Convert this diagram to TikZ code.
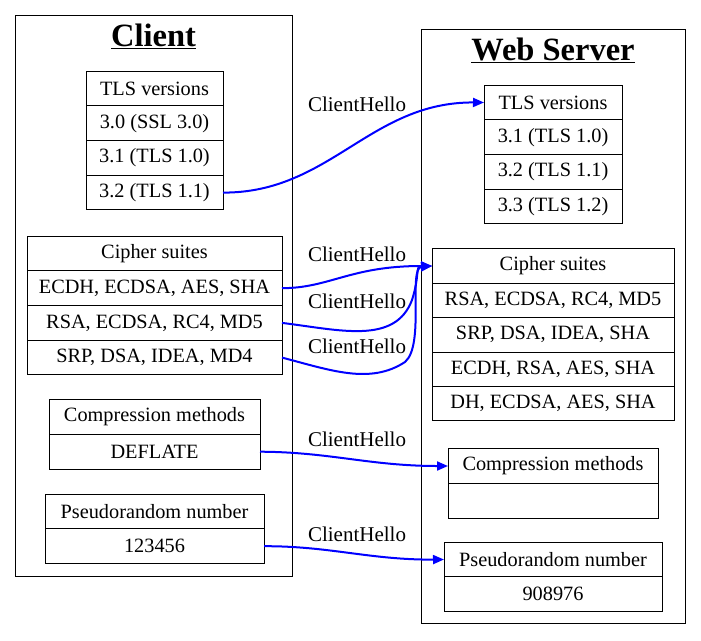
\documentclass[tikz,border=0pt]{standalone}
\usepackage{fontspec}
\setmainfont{Liberation Serif}
\usetikzlibrary{positioning,arrows.meta}

\begin{document}
\begin{tikzpicture}[x=1pt,y=-1pt,
        font=\fontsize{20.3}{24}\selectfont,
        cluster/.style={draw,line width=1pt},
        title/.style={font=\fontsize{32.5}{38}\selectfont\bfseries},
        cell/.style={draw,line width=1pt,outer sep=0pt,inner sep=0pt,minimum height=34.7pt},
        hello/.style={draw=blue,line width=2pt,-{Triangle[length=11pt,width=9pt]}}]

    \useasboundingbox (0,0) rectangle (701,640);

        % clusters
        \node[cluster,minimum width=277pt,minimum height=561pt] (client) at (153.5,295.5) {};
        \node[cluster,minimum width=264pt,minimum height=594pt] (server) at (553,326) {};
        \node[title] (clientTitle) at (153.5,36) {\underline{Client}};
        \node[title] (serverTitle) at (553,50) {\underline{Web Server}};

        % client side
        \begin{scope}[every node/.style={cell,minimum width=137pt}]
            \node (cTLS) at (154.5,88.5) {TLS versions};
            \node[below=0pt of cTLS] (cV30) {3.0 (SSL 3.0)};
            \node[below=0pt of cV30] (cV31) {3.1 (TLS 1.0)};
            \node[below=0pt of cV31] (cV32) {3.2 (TLS 1.1)};
        \end{scope}

        \begin{scope}[every node/.style={cell,minimum width=255pt}]
            \node (cCS) at (154.5,253.5) {Cipher suites};
            \node[below=0pt of cCS] (cEC) {ECDH, ECDSA, AES, SHA};
            \node[below=0pt of cEC] (cRSA) {RSA, ECDSA, RC4, MD5};
            \node[below=0pt of cRSA] (cSRP) {SRP, DSA, IDEA, MD4};
        \end{scope}

        \begin{scope}[every node/.style={cell,minimum width=211pt}]
            \node (cCM) at (154.5,417) {Compression methods};
            \node[below=0pt of cCM] (cDEF) {DEFLATE};
        \end{scope}

        \begin{scope}[every node/.style={cell,minimum width=219pt}]
            \node (cPR) at (154.5,511.5) {Pseudorandom number};
            \node[below=0pt of cPR] (cNum) {123456};
        \end{scope}

        % server side
        \begin{scope}[every node/.style={cell,minimum width=138pt}]
            \node (sTLS) at (553,102.5) {TLS versions};
            \node[below=0pt of sTLS] (sV31) {3.1 (TLS 1.0)};
            \node[below=0pt of sV31] (sV32) {3.2 (TLS 1.1)};
            \node[below=0pt of sV32] (sV33) {3.3 (TLS 1.2)};
        \end{scope}

        \begin{scope}[every node/.style={cell,minimum width=242pt,minimum height=34.4pt}]
            \node (sCS) at (553,266) {Cipher suites};
            \node[below=0pt of sCS] (sRSA) {RSA, ECDSA, RC4, MD5};
            \node[below=0pt of sRSA] (sSRP) {SRP, DSA, IDEA, SHA};
            \node[below=0pt of sSRP] (sEC) {ECDH, RSA, AES, SHA};
            \node[below=0pt of sEC] (sDH) {DH, ECDSA, AES, SHA};
        \end{scope}

        \begin{scope}[every node/.style={cell,minimum width=210pt}]
            \node (sCM) at (553,466) {Compression methods};
            \node[below=0pt of sCM] (sNone) {};
        \end{scope}

        \begin{scope}[every node/.style={cell,minimum width=218pt}]
            \node (sPR) at (553,559.5) {Pseudorandom number};
            \node[below=0pt of sPR] (sNum) {908976};
        \end{scope}

        % ClientHello messages
        \begin{scope}[every node/.style={font=\fontsize{21}{24}\selectfont}]
            \node (hello1) at (357,104) {ClientHello};
            \node (hello2) at (357,254) {ClientHello};
            \node (hello3) at (357,301) {ClientHello};
            \node (hello4) at (357,346) {ClientHello};
            \node (hello5) at (357,439) {ClientHello};
            \node (hello6) at (357,534) {ClientHello};
        \end{scope}

        \draw[hello] (cV32.east) .. controls (330,193) and (370,102) .. (sTLS.west);
        \draw[hello] (cEC.east) .. controls (330,288) and (350,266) .. (sCS.west);
        \draw[hello] (cRSA.east) .. controls (340,330) and (395,345) .. (412,300)
            .. controls (420,275) and (415,266) .. (sCS.west);
        \draw[hello] (cSRP.east) .. controls (330,370) and (370,385) .. (405,362)
            .. controls (425,345) and (408,268) .. (sCS.west);
        \draw[hello] (cDEF.east) .. controls (330,452) and (370,466) .. (sCM.west);
        \draw[hello] (cNum.east) .. controls (330,546) and (370,560) .. (sPR.west);

\end{tikzpicture}
\end{document}
